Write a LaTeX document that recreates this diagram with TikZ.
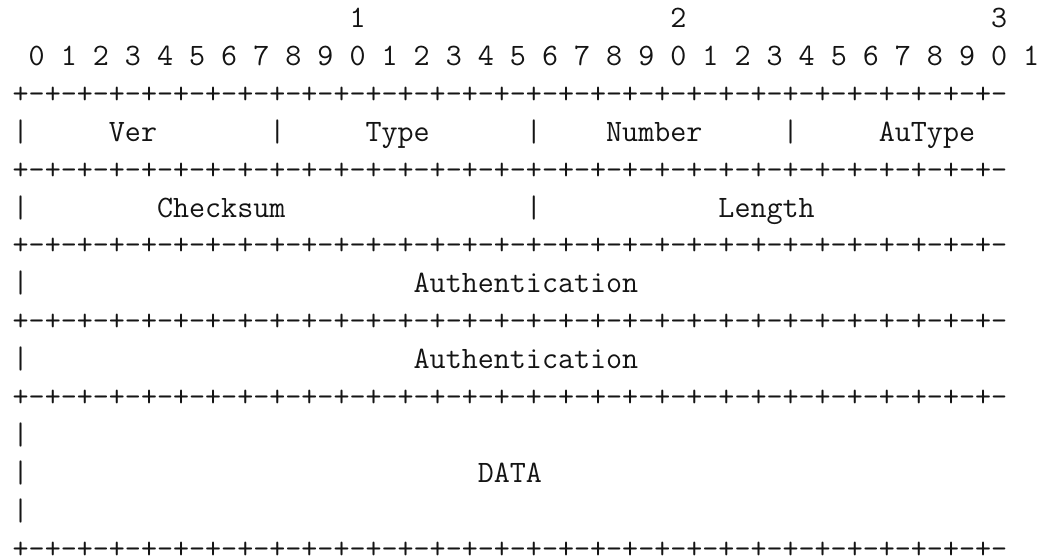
\documentclass[tikz,border=0pt]{standalone}
\usepackage{fontspec}
\newlength\chw
\newcommand\borderline{+-+-+-+-+-+-+-+-+-+-+-+-+-+-+-+-+-+-+-+-+-+-+-+-+-+-+-+-+-+-+-}
\begin{document}
\settowidth\chw{\ttfamily\fontsize{30pt}{34pt}\selectfont 0}%
\pgfmathsetmacro\ttsize{30*16.04/\chw}%
\tikzset{
  txt/.style={font=\ttfamily\fontsize{\ttsize pt}{34pt}\selectfont, inner sep=0pt, outer sep=0pt, anchor=base west, text=black!92},
}%
\newcommand\putat[4]{\node[txt] (#1) at ({12.7+16.04*(#2)},{27.5+37.9*(#3)}) {#4};}%
\begin{tikzpicture}[x=1pt,y=-1pt]
\useasboundingbox (0,0) rectangle (1043,556);
% tens row
\putat{t1}{21}{0}{1}
\putat{t2}{41}{0}{2}
\putat{t3}{61}{0}{3}
% digits row
\foreach \i in {0,...,31} {
  \pgfmathtruncatemacro\dd{mod(\i,10)}
  \putat{d\i}{2*\i+1}{1}{\dd}
}
% borders
\putat{b1}{0}{2}{\borderline}
\putat{b2}{0}{4}{\borderline}
\putat{b3}{0}{6}{\borderline}
\putat{b4}{0}{8}{\borderline}
\putat{b5}{0}{10}{\borderline}
\putat{b6}{0}{14}{\borderline}
% row 1
\putat{r1a}{0}{3}{|}
\putat{ver}{6}{3}{Ver}
\putat{r1b}{16}{3}{|}
\putat{type}{22}{3}{Type}
\putat{r1c}{32}{3}{|}
\putat{number}{37}{3}{Number}
\putat{r1d}{48}{3}{|}
\putat{autype}{54}{3}{AuType}
% row 2
\putat{r2a}{0}{5}{|}
\putat{checksum}{9}{5}{Checksum}
\putat{r2b}{32}{5}{|}
\putat{length}{44}{5}{Length}
% row 3
\putat{r3a}{0}{7}{|}
\putat{auth1}{25}{7}{Authentication}
% row 4
\putat{r4a}{0}{9}{|}
\putat{auth2}{25}{9}{Authentication}
% data
\putat{r5a}{0}{11}{|}
\putat{r5b}{0}{12}{|}
\putat{data}{29}{12}{DATA}
\putat{r5c}{0}{13}{|}
\end{tikzpicture}
\end{document}
